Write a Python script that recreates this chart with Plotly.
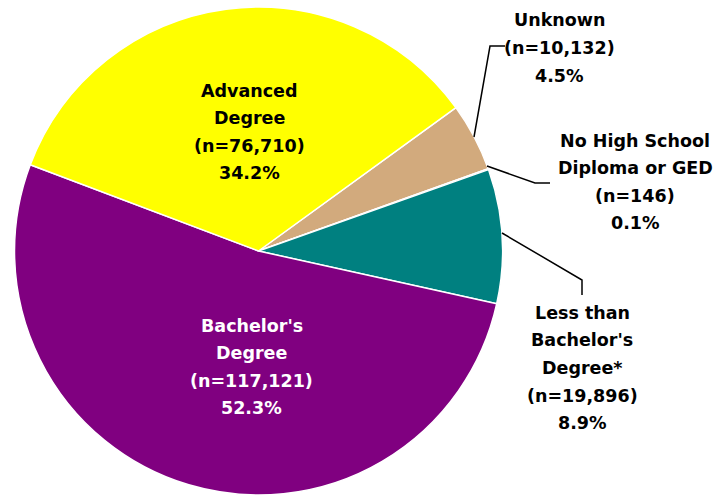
import plotly.graph_objects as go

# ---- data ----
categories = ["Unknown", "No High School Diploma or GED", "Less than Bachelor's Degree*",
              "Bachelor's Degree", "Advanced Degree"]
counts = [10132, 146, 19896, 117121, 76710]
percents = [4.5, 0.1, 8.9, 52.3, 34.2]
label_lines = [
    ["Unknown"],
    ["No High School", "Diploma or GED"],
    ["Less than", "Bachelor's", "Degree*"],
    ["Bachelor's", "Degree"],
    ["Advanced", "Degree"],
]

# ---- styling / layout (positions in pixels) ----
W, H = 717, 495
colors = ["#D2AA7D", "#7F7F7F", "#008080", "#800080", "#FFFF00"]
text_colors = ["black", "black", "black", "white", "black"]
label_centers = [(559, 48), (635, 182), (582, 368), (252, 367), (249, 132)]
line_gap = 27.6
leader_paths = [
    [(474, 137), (490, 46), (505, 46)],
    [(487, 166), (535, 183), (550, 183)],
    [(502, 233), (582, 280), (582, 295)],
    None, None,
]


def px(x, y):
    return x / W, 1 - y / H


fig = go.Figure(go.Pie(
    labels=categories,
    values=counts,
    sort=False,
    direction="clockwise",
    rotation=54,
    marker=dict(colors=colors, line=dict(color="white", width=1.5)),
    textinfo="none",
    hoverinfo="label+value+percent",
    domain=dict(x=[14 / W, 503 / W], y=[0, 488 / H]),
    showlegend=False,
))

annotations = []
for i, cat in enumerate(categories):
    lines = label_lines[i] + [f"(n={counts[i]:,})", f"{percents[i]:.1f}%"]
    cx, cy = label_centers[i]
    n = len(lines)
    for j, t in enumerate(lines):
        yy = cy + (j - (n - 1) / 2) * line_gap
        xp, yp = px(cx, yy)
        annotations.append(dict(
            x=xp, y=yp, xref="paper", yref="paper", text=f"<b>{t}</b>",
            showarrow=False, xanchor="center", yanchor="middle",
            font=dict(family="DejaVu Sans", size=17.5, color=text_colors[i]),
        ))

shapes = []
for path in leader_paths:
    if path is None:
        continue
    pts = [px(x, y) for x, y in path]
    d = "M " + " L ".join(f"{a:.5f},{b:.5f}" for a, b in pts)
    shapes.append(dict(type="path", path=d, xref="paper", yref="paper",
                       line=dict(color="black", width=1.5)))

fig.update_layout(
    width=W, height=H,
    margin=dict(l=0, r=0, t=0, b=0),
    paper_bgcolor="white", plot_bgcolor="white",
    annotations=annotations, shapes=shapes,
)

fig.write_html("out.html", config={"displayModeBar": False},
               post_script="document.body.style.margin='0';document.body.style.overflow='hidden';")
